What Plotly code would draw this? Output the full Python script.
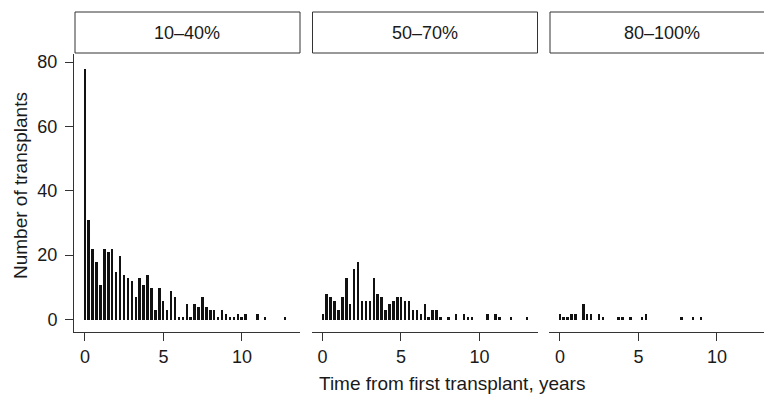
import plotly.graph_objects as go

# Quarter-year bins (years from first transplant)
bins = [0.0, 0.25, 0.5, 0.75, 1.0, 1.25, 1.5, 1.75, 2.0, 2.25, 2.5, 2.75,
        3.0, 3.25, 3.5, 3.75, 4.0, 4.25, 4.5, 4.75, 5.0, 5.25, 5.5, 5.75,
        6.0, 6.25, 6.5, 6.75, 7.0, 7.25, 7.5, 7.75, 8.0, 8.25, 8.5, 8.75,
        9.0, 9.25, 9.5, 9.75, 10.0, 10.25, 10.5, 10.75, 11.0, 11.25, 11.5, 11.75,
        12.0, 12.25, 12.5, 12.75, 13.0]

panel_labels = ["10\u201340%", "50\u201370%", "80\u2013100%"]

counts_10_40 = [78, 31, 22, 18, 11, 22, 21, 22, 15, 20, 14, 13, 12, 7, 13, 11, 14, 10,
                3, 10, 6, 3, 9, 7, 1, 1, 5, 1, 5, 4, 7, 4, 3, 3, 1, 3, 2, 1, 1, 2, 1, 2,
                0, 0, 2, 0, 1, 0, 0, 0, 0, 1, 0]
counts_50_70 = [2, 8, 7, 6, 3, 7, 13, 5, 16, 18, 6, 6, 6, 13, 8, 7, 3, 5, 6, 7, 7, 6,
                6, 3, 3, 2, 5, 1, 3, 3, 1, 0, 1, 0, 2, 0, 2, 1, 1, 0, 0, 0, 2, 0, 2, 1,
                0, 0, 1, 0, 0, 0, 1]
counts_80_100 = [2, 1, 1, 2, 2, 0, 5, 2, 2, 0, 2, 1, 0, 0, 0, 1, 1, 0, 1, 0, 0, 1,
                 2, 0, 0, 0, 0, 0, 0, 0, 0, 1, 0, 0, 1, 0, 1, 0, 0, 0, 0, 0, 0, 0, 0, 0,
                 0, 0, 0, 0, 0, 0, 0]

y_ticks = [0, 20, 40, 60, 80]
x_ticks = [0, 5, 10]

series = [counts_10_40, counts_50_70, counts_80_100]

W, H = 764, 397
ML, MR, MT, MB = 74, 0, 12, 65
PW = W - ML - MR
PH = H - MT - MB

FONT = "Liberation Sans, Arial, Helvetica, sans-serif"
TXT = "#1a1a1a"
LINE = "#333333"

# panel pixel extents (relative to plot area left)
pan_px = [(0, 226), (237.5, 463.5), (475, 690)]
domains = [(a / PW, b / PW) for a, b in pan_px]
xranges = [[-0.7, 13.7], [-0.7, 13.7], [-0.7, 13.0]]
ytop = (332 - 41.5 - MT) / PH  # fraction for the plotting region top

fig = go.Figure()
for k, vals in enumerate(series):
    sfx = "" if k == 0 else str(k + 1)
    fig.add_trace(go.Bar(
        x=bins, y=vals, width=0.125,
        marker=dict(color="#111111", line=dict(width=0)),
        xaxis="x" + sfx, yaxis="y" + sfx, showlegend=False,
        hoverinfo="x+y",
    ))

axis_common = dict(
    showgrid=False, zeroline=False, showline=True, linecolor=LINE, linewidth=1,
    ticks="outside", ticklen=8, tickwidth=1, tickcolor=LINE,
    tickfont=dict(family=FONT, size=18, color=TXT),
)

layout = dict(
    width=W, height=H,
    margin=dict(l=ML, r=MR, t=MT, b=MB, pad=0),
    paper_bgcolor="white", plot_bgcolor="white",
    bargap=0,
    font=dict(family=FONT, size=18, color=TXT),
)

for k in range(3):
    sfx = "" if k == 0 else str(k + 1)
    layout["xaxis" + sfx] = dict(
        axis_common, domain=list(domains[k]), range=xranges[k],
        tickmode="array", tickvals=x_ticks, anchor="y" + sfx,
    )
    if k == 0:
        layout["yaxis"] = dict(
            axis_common, domain=[0, ytop], range=[-3.9, 82.7],
            tickmode="array", tickvals=y_ticks, anchor="x",
            ticklabelstandoff=4,
        )
    else:
        layout["yaxis" + sfx] = dict(
            domain=[0, ytop], range=[-3.9, 82.7], visible=False, anchor="x" + sfx,
            showgrid=False, zeroline=False,
        )

shapes = []
annotations = []
strip_y0 = (332 - 41 - MT) / PH
strip_y1 = 1.0
for k in range(3):
    x0, x1 = domains[k]
    if k == 2:
        x1 = 1.02
    shapes.append(dict(type="rect", xref="paper", yref="paper",
                       x0=x0 + 1.0 / PW, x1=x1, y0=strip_y0, y1=strip_y1,
                       line=dict(color=LINE, width=1), fillcolor="white", layer="above"))
    cx = (domains[k][0] + (domains[k][1] if k < 2 else (pan_px[2][0] + 226) / PW)) / 2
    annotations.append(dict(text=panel_labels[k], xref="paper", yref="paper",
                            x=cx, y=(strip_y0 + strip_y1) / 2, showarrow=False,
                            xanchor="center", yanchor="middle",
                            font=dict(family=FONT, size=18, color=TXT)))

annotations.append(dict(text="Number of transplants", xref="paper", yref="paper",
                        x=(20 - ML) / PW, y=(332 - 186) / PH,
                        showarrow=False, textangle=-90, xanchor="center", yanchor="middle",
                        font=dict(family=FONT, size=19, color=TXT)))
annotations.append(dict(text="Time from first transplant, years", xref="paper", yref="paper",
                        x=(452 - ML) / PW, y=(332 - 383) / PH,
                        showarrow=False, xanchor="center", yanchor="middle",
                        font=dict(family=FONT, size=19, color=TXT)))

layout["shapes"] = shapes
layout["annotations"] = annotations
fig.update_layout(**layout)
fig.write_html("out.html",
               config={"displayModeBar": False},
               post_script="document.body.style.margin='0px';"
                           "document.body.style.overflow='hidden';")
